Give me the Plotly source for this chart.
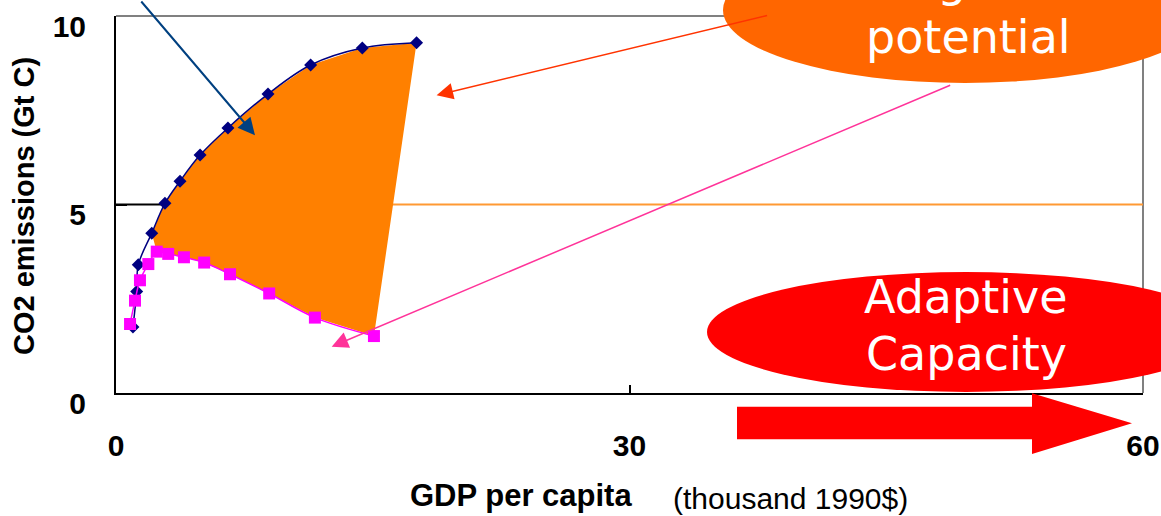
import plotly.graph_objects as go

# ---- data ----
upper_gdp = [0.99, 1.21, 1.30, 2.09, 2.86, 3.74, 4.91, 6.54, 8.88, 11.37, 14.39, 17.56]
upper_co2 = [1.75, 2.69, 3.40, 4.24, 5.03, 5.62, 6.31, 7.03, 7.93, 8.70, 9.15, 9.29]

lower_gdp = [0.82, 1.11, 1.40, 1.89, 2.38, 3.05, 3.97, 5.15, 6.66, 8.95, 11.62, 15.07]
lower_co2 = [1.83, 2.45, 2.99, 3.42, 3.75, 3.69, 3.60, 3.46, 3.15, 2.64, 2.00, 1.51]

x_ticks = [0, 30, 60]
y_ticks = [0, 5, 10]

FONT = "Liberation Sans, Arial, sans-serif"
BUBBLE_FONT = "DejaVu Sans, Verdana, sans-serif"

# plot area in pixels (for paper-coordinate decorations)
L, R, T, B = 116, 1143, 16, 393
W, H = R - L, B - T


def px(x):
    return (x - L) / W


def py(y):
    return (B - y) / H


fig = go.Figure()

# mitigation potential area (between upper and lower curves)
fill_x = upper_gdp[3:] + lower_gdp[4:][::-1]
fill_y = upper_co2[3:] + lower_co2[4:][::-1]
fig.add_trace(go.Scatter(x=fill_x, y=fill_y, fill="toself", fillcolor="#ff8000",
                         mode="lines", line=dict(width=0, color="#ff8000"),
                         hoverinfo="skip", showlegend=False))

fig.add_trace(go.Scatter(x=upper_gdp, y=upper_co2, mode="lines+markers",
                         line=dict(color="#000080", width=1.5, shape="spline"),
                         marker=dict(symbol="diamond", size=10, color="#000080"),
                         showlegend=False))
fig.add_trace(go.Scatter(x=lower_gdp, y=lower_co2, mode="lines+markers",
                         line=dict(color="#ff00ff", width=1.5, shape="spline"),
                         marker=dict(symbol="square", size=12, color="#ff00ff"),
                         showlegend=False))

shapes = [
    # gray top/right frame
    dict(type="line", xref="paper", yref="paper", x0=0, x1=1, y0=1, y1=1,
         line=dict(color="#808080", width=2), layer="below"),
    dict(type="line", xref="paper", yref="paper", x0=1, x1=1, y0=0, y1=1,
         line=dict(color="#808080", width=2), layer="below"),
    # gridline at 5 (black left, orange right)
    dict(type="line", xref="x", yref="y", x0=0, x1=10, y0=5, y1=5,
         line=dict(color="#000000", width=2), layer="between"),
    dict(type="line", xref="x", yref="y", x0=10, x1=60, y0=5, y1=5,
         line=dict(color="#ff9933", width=2), layer="between"),
    # orange bubble
    dict(type="circle", xref="paper", yref="paper",
         x0=px(723), x1=px(1207), y0=py(83), y1=py(-63),
         fillcolor="#ff6600", line=dict(width=0), layer="above"),
    # red bubble
    dict(type="circle", xref="paper", yref="paper",
         x0=px(707), x1=px(1225), y0=py(392), y1=py(272),
         fillcolor="#ff0000", line=dict(width=0), layer="above"),
    # big red arrow
    dict(type="path", xref="paper", yref="paper",
         path=(f"M{px(737)},{py(406.7)} L{px(1032)},{py(406.7)} L{px(1032)},{py(393.3)} "
               f"L{px(1132)},{py(423.3)} L{px(1032)},{py(454)} L{px(1032)},{py(439.3)} "
               f"L{px(737)},{py(439.3)} Z"),
         fillcolor="#ff0000", line=dict(width=0), layer="above"),
]

annotations = [
    # arrows
    dict(x=8.12, y=6.84, xref="x", yref="y", ax=-115, ay=-145, text="",
         showarrow=True, arrowhead=2, arrowsize=1.7, arrowwidth=2, arrowcolor="#004080"),
    dict(x=18.73, y=7.90, xref="x", yref="y", ax=332, ay=-80, text="",
         showarrow=True, arrowhead=2, arrowsize=2.2, arrowwidth=1.5, arrowcolor="#ff3300"),
    dict(x=12.60, y=1.23, xref="x", yref="y", ax=620, ay=-262, text="",
         showarrow=True, arrowhead=2, arrowsize=2.2, arrowwidth=1.5, arrowcolor="#ff3399"),
    # bubble texts
    dict(x=px(968), y=py(-20), xref="paper", yref="paper", text="Mitigation",
         showarrow=False, font=dict(family=BUBBLE_FONT, size=46, color="white"),
         xanchor="center", yanchor="middle"),
    dict(x=px(968), y=py(37), xref="paper", yref="paper", text="potential",
         showarrow=False, font=dict(family=BUBBLE_FONT, size=46, color="white"),
         xanchor="center", yanchor="middle"),
    dict(x=px(966), y=py(297), xref="paper", yref="paper", text="Adaptive",
         showarrow=False, font=dict(family=BUBBLE_FONT, size=46, color="white"),
         xanchor="center", yanchor="middle"),
    dict(x=px(966), y=py(354), xref="paper", yref="paper", text="Capacity",
         showarrow=False, font=dict(family=BUBBLE_FONT, size=46, color="white"),
         xanchor="center", yanchor="middle"),
    # axis titles
    dict(x=px(24), y=py(206), xref="paper", yref="paper", text="<b>CO2 emissions (Gt C)</b>",
         textangle=-90, showarrow=False, font=dict(family=FONT, size=29, color="black"),
         xanchor="center", yanchor="middle"),
    dict(x=px(521), y=py(495), xref="paper", yref="paper", text="<b>GDP per capita</b>",
         showarrow=False, font=dict(family=FONT, size=31, color="black"),
         xanchor="center", yanchor="middle"),
    dict(x=px(790), y=py(498), xref="paper", yref="paper", text="(thousand 1990$)",
         showarrow=False, font=dict(family=FONT, size=30, color="black"),
         xanchor="center", yanchor="middle"),
]

fig.update_layout(
    width=1161, height=516,
    margin=dict(l=L, r=1161 - R, t=T, b=516 - B, autoexpand=False),
    paper_bgcolor="white", plot_bgcolor="white",
    showlegend=False,
    shapes=shapes, annotations=annotations,
    xaxis=dict(range=[0, 60], tickvals=x_ticks, ticktext=[f"<b>{v}</b>" for v in x_ticks],
               showgrid=False, zeroline=False, showline=True, linecolor="black", linewidth=2,
               ticks="inside", ticklen=8, tickwidth=2, tickcolor="black",
               ticklabelstandoff=25, automargin=False, ticklabeloverflow="allow",
               tickfont=dict(family=FONT, size=30, color="black")),
    yaxis=dict(range=[0, 10], tickvals=y_ticks, ticktext=[f"<b>{v}</b>" for v in y_ticks],
               showgrid=False, zeroline=False, showline=True, linecolor="black", linewidth=2,
               ticks="inside", ticklen=11, tickwidth=2, tickcolor="black",
               ticklabelstandoff=22, ticklabelshift=10, automargin=False,
               ticklabeloverflow="allow",
               tickfont=dict(family=FONT, size=30, color="black")),
)

fig.write_html("out.html")
